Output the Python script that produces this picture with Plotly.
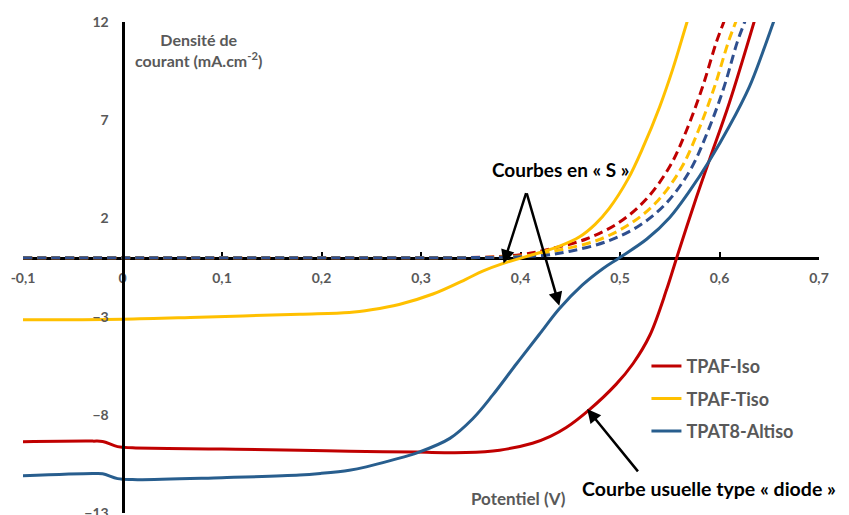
import plotly.graph_objects as go

# ---- data (V, mA/cm2) ----
red_v = [-0.1, -0.03, -0.02, -0.005, 0.01, 0.1, 0.178, 0.228, 0.295, 0.345, 0.379, 0.412, 0.43,
         0.446, 0.469, 0.496, 0.513, 0.530, 0.547, 0.557, 0.575, 0.590, 0.610, 0.640]
red_j = [-9.37, -9.34, -9.36, -9.62, -9.68, -9.74, -9.8, -9.85, -9.9, -9.92, -9.8, -9.45, -9.1,
         -8.65, -7.75, -6.45, -5.4, -3.95, -1.6, 0.0, 2.8, 5.0, 7.9, 12.9]

yellow_v = [-0.1, 0.0, 0.077, 0.178, 0.228, 0.25, 0.278, 0.312, 0.345, 0.362, 0.382, 0.402, 0.419,
            0.44, 0.459, 0.475, 0.489, 0.508, 0.523, 0.540, 0.553, 0.568, 0.575]
yellow_j = [-3.16, -3.13, -3.03, -2.88, -2.79, -2.65, -2.38, -1.85, -1.1, -0.68, -0.3, 0.0, 0.25,
            0.6, 1.05, 1.7, 2.5, 4.0, 5.6, 7.7, 9.6, 12.1, 13.2]

blue_v = [-0.1, -0.03, -0.02, -0.005, 0.01, 0.1, 0.178, 0.2, 0.228, 0.245, 0.27, 0.298, 0.329,
          0.352, 0.372, 0.396, 0.419, 0.439, 0.462, 0.483, 0.4995, 0.527, 0.55, 0.57, 0.59,
          0.61, 0.63, 0.643, 0.655, 0.665]
blue_j = [-11.1, -10.99, -11.0, -11.25, -11.3, -11.2, -11.07, -10.98, -10.82, -10.65, -10.32, -9.9,
          -9.2, -8.2, -7.0, -5.4, -3.9, -2.6, -1.4, -0.55, 0.0, 0.95, 2.05, 3.4, 4.95,
          6.7, 8.7, 10.4, 12.1, 13.5]

red_d_v = [-0.1, 0.3, 0.36, 0.40, 0.43, 0.466, 0.499, 0.526, 0.55, 0.567, 0.583, 0.597, 0.605, 0.612]
red_d_j = [0.0, 0.0, 0.02, 0.15, 0.45, 0.95, 1.79, 2.96, 4.64, 6.5, 8.7, 11.0, 12.1, 13.2]

yellow_d_v = [-0.1, 0.31, 0.37, 0.41, 0.44, 0.478, 0.511, 0.538, 0.562, 0.579, 0.595, 0.609, 0.617, 0.624]
yellow_d_j = [0.0, 0.0, 0.02, 0.13, 0.4, 0.9, 1.75, 2.9, 4.6, 6.5, 8.7, 11.0, 12.1, 13.2]

blue_d_v = [-0.1, 0.32, 0.38, 0.42, 0.45, 0.488, 0.52, 0.547, 0.571, 0.588, 0.604, 0.618, 0.626, 0.633]
blue_d_j = [0.0, 0.0, 0.02, 0.1, 0.33, 0.85, 1.65, 2.8, 4.5, 6.4, 8.6, 11.0, 12.1, 13.2]

names = ["TPAF-Iso", "TPAF-Tiso", "TPAT8-Altiso"]
x_ticks = [-0.1, 0, 0.1, 0.2, 0.3, 0.4, 0.5, 0.6, 0.7]
x_tick_text = ["-0,1", "0", "0,1", "0,2", "0,3", "0,4", "0,5", "0,6", "0,7"]
y_ticks = [12, 7, 2, -3, -8, -13]

RED, YEL, BLU, BLU_D = "#C00000", "#FFC000", "#285E8E", "#2F4F8F"
GREY = "#595959"
FONT = "Lato"

fig = go.Figure()
for v, j, c in [(red_d_v, red_d_j, RED), (yellow_d_v, yellow_d_j, YEL), (blue_d_v, blue_d_j, BLU_D)]:
    fig.add_trace(go.Scatter(x=v, y=j, mode="lines", showlegend=False, hoverinfo="skip",
                             line=dict(color=c, width=3, dash="9px,5px", shape="spline", smoothing=1.0)))
for v, j, c, n in [(red_v, red_j, RED, names[0]), (yellow_v, yellow_j, YEL, names[1]), (blue_v, blue_j, BLU, names[2])]:
    fig.add_trace(go.Scatter(x=v, y=j, mode="lines", name=n, legendgroup=n,
                             line=dict(color=c, width=3, shape="spline", smoothing=1.0)))

fig.update_layout(
    width=849, height=515,
    margin=dict(l=15, r=38, t=14, b=10, autoexpand=False),
    paper_bgcolor="white", plot_bgcolor="white",
    font=dict(family=FONT, color=GREY),
    showlegend=True,
    legend=dict(xref="container", yref="container", x=0.752, y=0.34, xanchor="left", yanchor="top",
                font=dict(size=18, color=GREY, weight="bold"), bgcolor="rgba(0,0,0,0)",
                tracegroupgap=6),
    xaxis=dict(range=[-0.1, 0.7], anchor="free", position=0.52, showgrid=False, zeroline=False,
               showline=True, linecolor="black", linewidth=3, layer="below traces",
               tickmode="array", tickvals=x_ticks, ticktext=x_tick_text,
               ticks="inside", ticklen=5, tickwidth=2, tickcolor="black", ticklabelstandoff=7,
               tickfont=dict(size=14, color=GREY, family=FONT, weight="bold")),
    yaxis=dict(range=[-13, 12], anchor="free", position=0.125, showgrid=False, zeroline=False,
               showline=True, linecolor="black", linewidth=3, layer="above traces",
               tickmode="array", tickvals=y_ticks, ticks="", ticklabelstandoff=10,
               tickfont=dict(size=14, color=GREY, family=FONT, weight="bold")),
)

ann = []
ann.append(dict(x=0.0764, y=10.56, xref="x", yref="y", showarrow=False,
                text="Densité de<br>courant (mA.cm<sup>-2</sup>)",
                font=dict(size=16, color=GREY, family=FONT, weight="bold")))
ann.append(dict(x=0.398, y=-12.24, xref="x", yref="y", showarrow=False, text="Potentiel (V)",
                font=dict(size=17, color=GREY, family=FONT, weight="bold")))
ann.append(dict(x=1.024, y=-11.73, xref="paper", yref="y", xanchor="right", showarrow=False,
                text="Courbe usuelle type « diode »",
                font=dict(size=19.5, color="black", family=FONT, weight="bold")))
ann.append(dict(x=0.44, y=4.49, xref="x", yref="y", showarrow=False, text="Courbes en « S »",
                font=dict(size=19, color="black", family=FONT, weight="bold")))
for hx, hy, ax, ay in [(0.383, -0.3, 23, -72), (0.439, -2.45, -33, -114), (0.467, -7.7, 52, 64)]:
    ann.append(dict(x=hx, y=hy, xref="x", yref="y", text="", showarrow=True, ax=ax, ay=ay,
                    arrowhead=2, arrowsize=1.1, arrowwidth=2.5, arrowcolor="black", standoff=0))
fig.update_layout(annotations=ann)

fig.write_html("out.html")
